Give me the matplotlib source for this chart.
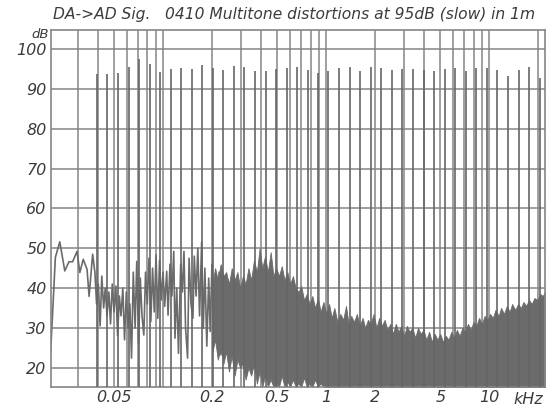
import numpy as np
import matplotlib.pyplot as plt
from matplotlib.ticker import FixedLocator, NullFormatter

# multitone lines (kHz, dB)
tone_freq = [0.0392, 0.0455, 0.0528, 0.0613, 0.0711, 0.0825, 0.0957, 0.111, 0.129, 0.150,
             0.174, 0.201, 0.234, 0.271, 0.315, 0.365, 0.424, 0.492, 0.571, 0.662,
             0.768, 0.891, 1.03, 1.20, 1.39, 1.62, 1.88, 2.18, 2.53, 2.93,
             3.40, 3.95, 4.58, 5.31, 6.17, 7.15, 8.30, 9.63, 11.2, 13.0,
             15.1, 17.5, 20.3]
tone_level = [93.8, 93.8, 93.9, 95.6, 97.5, 96.2, 94.3, 95.1, 95.3, 95.0,
              96.0, 95.2, 94.8, 95.8, 95.4, 94.5, 94.6, 95.0, 95.2, 95.6,
              94.8, 94.1, 94.6, 95.3, 95.5, 94.5, 95.4, 95.2, 94.8, 95.0,
              95.0, 94.7, 94.6, 94.9, 95.3, 94.4, 95.3, 95.2, 94.8, 93.3,
              94.8, 95.6, 92.7]

# low frequency residual trace, 20 Hz .. 240 Hz
lf_freq = [0.0204, 0.0218, 0.0232, 0.0249, 0.0264, 0.0278, 0.0296, 0.0308, 0.0323, 0.0341,
           0.0351, 0.0369,
           0.0381, 0.0390, 0.0400, 0.0410, 0.0420, 0.0431, 0.0441, 0.0452, 0.0464, 0.0475,
           0.0487, 0.0499, 0.0512, 0.0525, 0.0538, 0.0551, 0.0565, 0.0579, 0.0594, 0.0608,
           0.0624, 0.0639, 0.0655, 0.0672, 0.0688, 0.0706, 0.0723, 0.0741, 0.0760, 0.0779,
           0.0798, 0.0818, 0.0839, 0.0860, 0.0881, 0.0903, 0.0926, 0.0949, 0.0973, 0.0997,
           0.102, 0.105, 0.107, 0.110, 0.113, 0.116, 0.118, 0.121, 0.124, 0.128,
           0.131, 0.134, 0.137, 0.141, 0.144, 0.148, 0.152, 0.155, 0.159, 0.163,
           0.167, 0.172, 0.176, 0.180, 0.185, 0.190, 0.194, 0.199, 0.204, 0.209,
           0.215, 0.220, 0.226, 0.231, 0.237]
lf_level = [24.0, 47.7, 51.6, 44.3, 46.6, 46.6, 49.2, 43.9, 47.2, 44.7,
            37.9, 48.5,
            43.9, 36.0, 41.0, 30.5, 43.0, 35.0, 40.0, 33.0, 39.0, 31.0,
            41.0, 34.0, 40.5, 28.0, 38.0, 33.0, 40.0, 27.0, 39.0, 30.0,
            36.0, 22.4, 44.0, 30.0, 46.7, 26.0, 42.5, 33.0, 28.2, 44.0,
            36.0, 47.5, 31.6, 45.0, 34.0, 48.3, 32.4, 47.0, 37.0, 44.0,
            35.4, 44.2, 33.2, 46.0, 38.0, 49.2, 27.4, 40.0, 23.6, 46.0,
            39.0, 49.2, 30.0, 22.4, 47.5, 36.0, 32.4, 48.0, 38.0, 50.0,
            33.0, 51.5, 29.9, 45.0, 25.4, 42.5, 29.1, 46.0, 34.0, 41.2,
            27.0, 44.0, 23.2, 42.5, 30.0]

# dense residual 200 Hz .. 1 kHz: upper and lower edge
mid_freq = [0.200, 0.208, 0.216, 0.225, 0.234, 0.243, 0.253, 0.263, 0.274, 0.285,
            0.296, 0.308, 0.320, 0.333, 0.346, 0.360, 0.375, 0.390, 0.405, 0.421,
            0.438, 0.456, 0.474, 0.493, 0.513, 0.533, 0.554, 0.577, 0.600, 0.624,
            0.649, 0.675, 0.702, 0.730, 0.759, 0.789, 0.821, 0.854, 0.888, 0.923,
            0.960, 1.00]
mid_top = [41.0, 45.0, 42.0, 46.0, 43.0, 44.0, 41.0, 45.0, 42.0, 44.0,
           40.0, 43.0, 41.0, 45.0, 42.0, 47.0, 44.0, 50.0, 45.0, 48.0,
           44.0, 49.0, 43.0, 45.0, 43.0, 45.5, 42.0, 44.0, 41.0, 43.0,
           40.0, 39.0, 40.5, 37.0, 38.5, 36.0, 38.0, 35.0, 37.5, 34.0,
           36.5, 33.5]
mid_bot = [24.0, 27.0, 22.0, 25.0, 21.0, 24.0, 19.0, 23.0, 18.0, 22.0,
           20.0, 21.0, 17.0, 20.0, 18.0, 21.0, 16.0, 19.0, 15.2, 18.0,
           15.2, 17.0, 15.2, 16.0, 15.2, 18.0, 15.2, 16.5, 15.2, 17.0,
           15.2, 16.0, 15.2, 17.5, 15.2, 16.0, 15.2, 17.0, 15.2, 16.0,
           15.2, 15.0]

# residual 1 kHz .. 22 kHz, solid down to the floor
hf_freq = [1.00, 1.04, 1.08, 1.12, 1.17, 1.22, 1.27, 1.32, 1.37, 1.42, 1.48,
           1.54, 1.60, 1.67, 1.73, 1.80, 1.87, 1.95, 2.03, 2.11, 2.19,
           2.28, 2.37, 2.47, 2.56, 2.67, 2.77, 2.88, 3.00, 3.12, 3.24,
           3.37, 3.51, 3.65, 3.79, 3.95, 4.10, 4.27, 4.44, 4.62, 4.80,
           4.99, 5.19, 5.40, 5.62, 5.84, 6.07, 6.32, 6.57, 6.83, 7.11,
           7.39, 7.69, 7.99, 8.31, 8.65, 8.99, 9.35, 9.73, 10.1, 10.5,
           10.9, 11.4, 11.8, 12.3, 12.8, 13.3, 13.8, 14.4, 15.0,
           15.6, 16.2, 16.8, 17.5, 18.2, 18.9, 19.7, 20.5, 21.3, 21.85]
hf_top = [33.5, 36.0, 32.5, 35.0, 31.5, 33.5, 32.0, 35.5, 31.0, 33.0, 31.5,
          33.5, 30.5, 32.5, 30.0, 32.0, 31.0, 33.5, 30.0, 32.5, 30.5,
          32.0, 29.5, 31.0, 28.5, 31.0, 29.0, 30.5, 28.0, 30.5, 29.0,
          30.0, 27.5, 30.0, 28.5, 29.5, 27.0, 29.0, 26.5, 28.5, 27.0,
          28.5, 26.5, 28.0, 27.0, 29.0, 27.5, 29.5, 28.0, 30.0, 29.0,
          31.0, 29.5, 31.5, 30.5, 32.5, 31.0, 33.0, 32.0, 33.5, 32.5,
          34.5, 33.0, 35.0, 33.5, 35.5, 34.0, 36.0, 34.5, 36.0,
          35.0, 36.5, 35.5, 37.0, 36.0, 37.5, 37.0, 38.5, 38.0, 39.0]

x_labels = {0.05: '0.05', 0.2: '0.2', 0.5: '0.5', 1: '1', 2: '2', 5: '5', 10: '10'}

ink = '#6b6b6b'
grid = '#858585'
txt = '#3c3c3c'

fig = plt.figure(figsize=(5.52, 4.08), dpi=100)
ax = fig.add_axes([0.0918, 0.0515, 0.8950, 0.875])
ax.set_xscale('log')
ax.set_xlim(0.0204, 21.85)
ax.set_ylim(15.15, 104.8)

# log grid at every 1..9 multiple
grid_x = [m * 10.0 ** e for e in range(-2, 2) for m in range(1, 10)]
grid_x = [g for g in grid_x if 0.0204 < g < 21.85]
ax.xaxis.set_major_locator(FixedLocator(list(x_labels.keys())))
ax.set_xticklabels(list(x_labels.values()))
ax.xaxis.set_minor_locator(FixedLocator(grid_x))
ax.xaxis.set_minor_formatter(NullFormatter())
ax.set_yticks(range(20, 101, 10))
for g in grid_x:
    ax.axvline(g, color=grid, lw=1.1, zorder=1)
for g in range(20, 101, 10):
    ax.axhline(g, color=grid, lw=1.1, zorder=1)

ax.fill_between(mid_freq, mid_bot, mid_top, color=ink, lw=0.6, edgecolor=ink, zorder=2)
ax.fill_between(hf_freq, 0, hf_top, color=ink, lw=0.6, edgecolor=ink, zorder=2)
ax.plot(lf_freq, lf_level, color=ink, lw=1.2, zorder=2)
ax.vlines(tone_freq, 0, tone_level, color='#666666', lw=1.2, zorder=3)

ax.tick_params(which='both', length=0, labelsize=11.5, labelcolor=txt)
ax.tick_params(axis='x', pad=2.5)
ax.tick_params(axis='y', pad=3)
for lab in ax.get_xticklabels() + ax.get_yticklabels():
    lab.set_fontstyle('italic')
for s in ax.spines.values():
    s.set_color(grid)
    s.set_linewidth(1.2)

fig.text(40 / 552, 1 - 35 / 408, 'dB', ha='center', va='center', fontsize=9.5,
         fontstyle='italic', color=txt)
fig.text(528 / 552, 1 - 399 / 408, 'kHz', ha='center', va='center', fontsize=11.5,
         fontstyle='italic', color=txt)
fig.text(294 / 552, 1 - 14 / 408, 'DA->AD Sig.   0410 Multitone distortions at 95dB (slow) in 1m',
         ha='center', va='center', fontsize=11.2, fontstyle='italic', color=txt)

fig.savefig('out.png', dpi=100, facecolor='white')
